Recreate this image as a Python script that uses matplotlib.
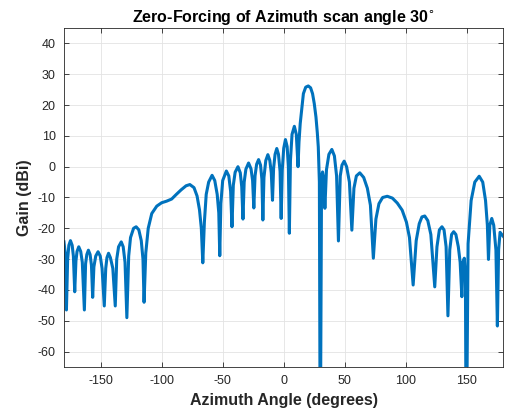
import numpy as np
import matplotlib
matplotlib.use("Agg")
import matplotlib.pyplot as plt

# ------------------------------------------------
# Pattern samples (deg, dBi)
# ------------------------------------------------
az = [
    -180, -179, -178, -177, -176, -174.7, -173.3, -172.3, -171.2, -170.2,
    -169.3, -167.9, -166.3, -165, -163.3, -162.3, -161.3, -160, -158.6, -157.5,
    -156.5, -155.5, -154, -152.1, -150.3, -148.8, -147, -145.8, -144.8, -143.5,
    -142, -140, -138, -136.8, -135.3, -133.1, -131.5, -130, -128.5, -127,
    -125.5, -123, -120.9, -118.7, -116.7, -115.3, -114.4, -113, -111, -108.1,
    -104, -100, -96, -91.8, -88, -84, -80, -76.9, -73.5, -71,
    -69, -67.5, -66.3, -65, -63.5, -61.5, -58.7, -56.5, -54.5, -53.2,
    -52.4, -51.5, -50, -47, -45, -43.5, -42.4, -41.3, -39.8, -37.5,
    -35.6, -34.4, -33.4, -32.4, -31, -28.8, -26.8, -25.5, -24.5, -23.5,
    -22.2, -20.6, -19, -17.9, -17.1, -16.2, -14.7, -13.0, -11.4, -10.2,
    -9.2, -8.3, -7.1, -5.7, -4.3, -3.0, -2.1, -1.2, 0, 1.4,
    2.8, 3.8, 4.6, 5.5, 6.8, 8.7, 10.3, 11.7, 12.5, 13.5,
    14.2, 16.1, 18, 20.1, 22, 23.6, 25, 26.4, 27.5, 28.3,
    29.2, 29.9, 31, 31.8, 32.8, 33.7, 35, 37, 39.4, 41.5,
    43.3, 44.8, 46.3, 47.7, 49.5, 51.5, 53.8, 55.8, 57.5, 59.5,
    62.3, 65.5, 68.5, 71, 73.4, 75.5, 78, 81, 84.8, 89,
    93, 97, 100.5, 103, 106, 108.5, 111, 113.2, 115.5, 118,
    120.5, 123.7, 125.5, 127.5, 129.6, 131.3, 133, 134.5, 136, 137.5,
    139.2, 141, 143, 144.5, 145.9, 146.8, 147.9, 148.8, 149.5, 151,
    153.5, 156.5, 160.1, 163, 165.3, 166.8, 167.7, 168.8, 170.4, 172,
    173.8, 175, 176, 177.2, 180,
]
gain = [
    -24.4, -28, -46.5, -30, -25.5, -24, -25.5, -29, -40.6, -30.5,
    -27.5, -26, -27.5, -31, -46.5, -31.5, -28.5, -27.1, -28.5, -32,
    -42.4, -32.5, -29, -27.6, -29, -33, -45.2, -33, -29.5, -28.1,
    -29.5, -33, -45.2, -30, -26, -24.4, -26, -31, -49, -29,
    -23, -20, -19.5, -20.5, -24, -30, -44, -28, -20, -15.2,
    -12.8, -11.7, -11.2, -10.5, -9, -7.5, -6.2, -5.8, -6.8, -9.5,
    -14, -20, -31.2, -18, -9, -5, -2.8, -4.5, -9, -15,
    -28.9, -12, -4.5, -1.4, -3, -8, -19.5, -6, -1.8, 0,
    -2, -6.5, -17, -5, -0.8, 1.2, -0.7, -4.5, -13.4, -3,
    0.8, 2.3, 0.5, -4, -17.3, -3.5, 2, 3.9, 2, -2,
    -10.9, -0.5, 4, 5.9, 4, -1.5, -16.8, -1, 6, 8.8,
    6.5, 0, -21.6, 2, 10.5, 13.1, 10.5, 0, 8, 14,
    16.7, 23.7, 25.8, 26.2, 25.6, 23.7, 20.5, 16.1, 11, 6.4,
    -5, -100, -3, -1.7, -4, -13.5, -1, 4, 5.6, 3.5,
    -3, -24.1, -3, 0.5, 1.8, 0, -5, -20.6, -7, -3,
    -2, -3.5, -7, -12.5, -29.7, -17, -12, -10, -9.6, -10.2,
    -11.8, -14.1, -18, -23, -38.4, -24, -18.5, -16.3, -16, -17.5,
    -22, -39, -26, -20.5, -19.5, -20.5, -26, -48.4, -27, -22,
    -21.1, -22, -26, -31, -42.2, -31, -29.7, -35, -100, -25,
    -11, -5, -3.1, -5, -11, -19, -30.1, -19, -16.8, -19,
    -27, -51.7, -27, -21.3, -22.7,
]

xticks = [-150, -100, -50, 0, 50, 100, 150]
yticks = [-60, -50, -40, -30, -20, -10, 0, 10, 20, 30, 40]

plt.rcParams["font.family"] = ["Liberation Sans", "DejaVu Sans"]
plt.rcParams["axes.unicode_minus"] = False
dark = "#262626"

fig = plt.figure(figsize=(5.05, 4.15), dpi=100)
ax = fig.add_axes([0.1267, 0.1157, 0.8703, 0.8168])

ax.plot(az, gain, color="#0072BD", linewidth=2.2)

ax.set_xlim(-180, 180)
ax.set_ylim(-65, 45)
ax.set_xticks(xticks)
ax.set_yticks(yticks)
ax.grid(True, color="#e3e3e3", linewidth=0.6)
ax.set_axisbelow(True)
ax.tick_params(direction="in", top=True, right=True, length=3.5,
               width=0.6, colors=dark, labelsize=9, labelcolor=dark, pad=6)
for s in ax.spines.values():
    s.set_color(dark)
    s.set_linewidth(0.6)

ax.set_xlabel("Azimuth Angle (degrees)", fontsize=11.5, fontweight="bold",
              color=dark, labelpad=4)
ax.set_ylabel("Gain (dBi)", fontsize=11.5, fontweight="bold",
              color=dark, labelpad=4)
ax.set_title(r"Zero-Forcing of Azimuth scan angle 30$^{\circ}$",
             fontsize=11.5, fontweight="bold", color="black", pad=4)

fig.savefig("out.png", dpi=100)
